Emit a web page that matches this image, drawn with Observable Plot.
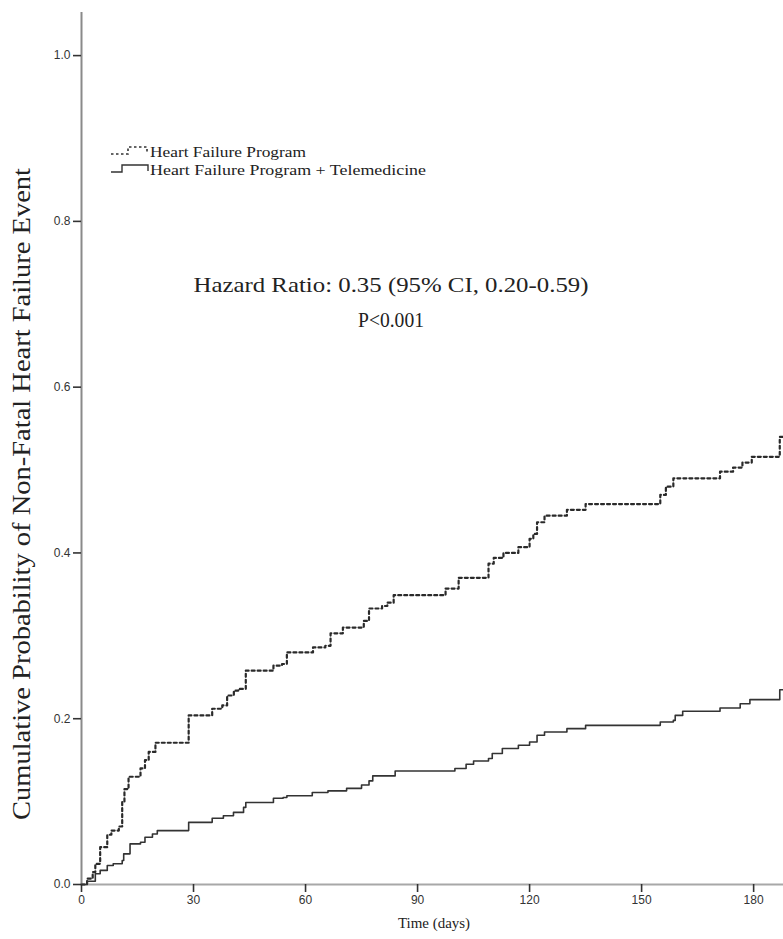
<!DOCTYPE html>
<html><head><meta charset="utf-8">
<script src="https://cdn.jsdelivr.net/npm/d3@7"></script>
<script src="https://cdn.jsdelivr.net/npm/@observablehq/plot@0.6"></script>
<style>
body{margin:0;background:#fff;}
#wrap{position:relative;width:783px;height:939px;overflow:hidden;background:#fff;}
</style></head><body><div id="wrap"></div>
<script>
// Heart Failure Program (dashed)
const hfTime = [0, 1.5, 3, 3.7, 5, 6.9, 8, 10, 10.9, 11.5, 12.6, 15.8, 17, 18, 19.8, 28.7, 35, 37.7, 39, 40.8, 42, 44, 51.4, 53.7, 55, 62, 65.3, 66.7, 70, 75.6, 77, 80.5, 81.9, 83.6, 97.5, 101, 109, 110.4, 113, 117, 120, 121, 122, 124, 130, 135, 155, 156.5, 158.5, 160.5, 171, 174.5, 177, 179.5, 187, 188];
const hfProb = [0, 0.007, 0.015, 0.025, 0.045, 0.06, 0.065, 0.07, 0.1, 0.115, 0.13, 0.14, 0.15, 0.16, 0.171, 0.204, 0.212, 0.216, 0.228, 0.234, 0.236, 0.258, 0.264, 0.266, 0.28, 0.286, 0.288, 0.303, 0.31, 0.318, 0.333, 0.336, 0.34, 0.349, 0.357, 0.37, 0.387, 0.394, 0.4, 0.407, 0.417, 0.423, 0.437, 0.445, 0.452, 0.459, 0.47, 0.48, 0.49, 0.49, 0.498, 0.503, 0.509, 0.516, 0.54, 0.54];
// Heart Failure Program + Telemedicine (solid)
const telTime = [0, 1.5, 3.7, 5, 6.9, 8.5, 10.9, 11.3, 13, 15.8, 17, 19, 20.3, 28.7, 35, 38, 40.7, 43.4, 44, 51.4, 54, 55, 61.8, 66, 71, 75, 77, 78, 84, 100, 103, 105, 109, 110, 112.7, 117, 120, 122, 124, 130, 135, 155, 158.5, 159, 161, 171, 176.4, 179, 187, 188];
const telProb = [0, 0.004, 0.013, 0.017, 0.023, 0.025, 0.029, 0.037, 0.049, 0.051, 0.057, 0.061, 0.065, 0.075, 0.08, 0.083, 0.087, 0.093, 0.099, 0.104, 0.105, 0.107, 0.111, 0.113, 0.116, 0.12, 0.125, 0.131, 0.137, 0.14, 0.145, 0.149, 0.152, 0.158, 0.164, 0.168, 0.172, 0.18, 0.184, 0.188, 0.192, 0.196, 0.198, 0.204, 0.209, 0.213, 0.218, 0.223, 0.235, 0.235];

const seriesNames = ["Heart Failure Program", "Heart Failure Program + Telemedicine"];
const xTicks = [0, 30, 60, 90, 120, 150, 180];
const yTicks = [0, 0.2, 0.4, 0.6, 0.8, 1.0];
const xLabel = "Time (days)";
const yLabel = "Cumulative Probability of Non-Fatal Heart Failure Event";
const annotationLines = ["Hazard Ratio: 0.35 (95% CI, 0.20-0.59)", "P<0.001"];

const hf = hfTime.map((t, i) => ({t, p: hfProb[i]}));
const tel = telTime.map((t, i) => ({t, p: telProb[i]}));

const chart = Plot.plot({
  width: 783, height: 939,
  marginLeft: 81, marginRight: 0, marginTop: 12, marginBottom: 55,
  x: {domain: [0, 188]},
  y: {domain: [0, 1.052]},
  style: {background: "white", fontFamily: "'Liberation Sans', Arial, sans-serif", color: "#333"},
  marks: [
    Plot.ruleX([0], {stroke: "#8a8a8a", strokeWidth: 2}),
    Plot.ruleY([0], {stroke: "#a8a8a8", strokeWidth: 2}),
    Plot.axisY({ticks: yTicks, tickFormat: d => d.toFixed(1), tickSize: 8, tickPadding: 3, stroke: "#333", strokeWidth: 1.6, fontSize: 12, fill: "#333", label: null}),
    Plot.axisX({ticks: xTicks, tickFormat: d => String(d), tickSize: 8, tickPadding: 3, stroke: "#333", strokeWidth: 1.6, fontSize: 12, fill: "#333", label: null}),
    Plot.line(hf, {x: "t", y: "p", curve: "step-after", stroke: "#2a2a2a", strokeWidth: 2.2, strokeDasharray: "3,3"}),
    Plot.line(tel, {x: "t", y: "p", curve: "step-after", stroke: "#333", strokeWidth: 1.6})
  ]
});

const wrap = document.getElementById("wrap");
wrap.appendChild(chart);

const serif = "'Liberation Serif', 'Times New Roman', serif";
const ov = d3.select(wrap).append("svg")
  .attr("width", 783).attr("height", 939)
  .style("position", "absolute").style("left", "0").style("top", "0")
  .style("pointer-events", "none");

ov.append("text")
  .attr("transform", "translate(30,494) rotate(-90)")
  .attr("text-anchor", "middle")
  .attr("font-family", serif)
  .attr("font-size", 25)
  .attr("fill", "#222")
  .attr("textLength", 652)
  .attr("lengthAdjust", "spacingAndGlyphs")
  .text(yLabel);

ov.append("text")
  .attr("x", 434).attr("y", 928)
  .attr("text-anchor", "middle")
  .attr("font-family", serif)
  .attr("font-size", 14)
  .attr("fill", "#222")
  .attr("textLength", 72)
  .attr("lengthAdjust", "spacingAndGlyphs")
  .text(xLabel);

const annLen = [395, 66];
annotationLines.forEach((s, i) => {
  ov.append("text")
    .attr("x", 391).attr("y", 292 + i * 35)
    .attr("text-anchor", "middle")
    .attr("font-family", serif)
    .attr("font-size", 22)
    .attr("fill", "#222")
    .attr("textLength", annLen[i])
    .attr("lengthAdjust", "spacingAndGlyphs")
    .text(s);
});

// Legend
const lg = ov.append("g");
lg.append("path")
  .attr("d", "M111,154 H128 V147 H147 V154")
  .attr("fill", "none").attr("stroke", "#333").attr("stroke-width", 1.6).attr("stroke-dasharray", "2.5,2.5");
lg.append("path")
  .attr("d", "M111,172 H122 V165 H148 V171")
  .attr("fill", "none").attr("stroke", "#333").attr("stroke-width", 1.4);
const legLen = [156, 276];
seriesNames.forEach((s, i) => {
  lg.append("text")
    .attr("x", 150).attr("y", 157 + i * 18)
    .attr("font-family", serif)
    .attr("font-size", 15)
    .attr("fill", "#222")
    .attr("textLength", legLen[i])
    .attr("lengthAdjust", "spacingAndGlyphs")
    .text(s);
});
</script>
</body></html>
